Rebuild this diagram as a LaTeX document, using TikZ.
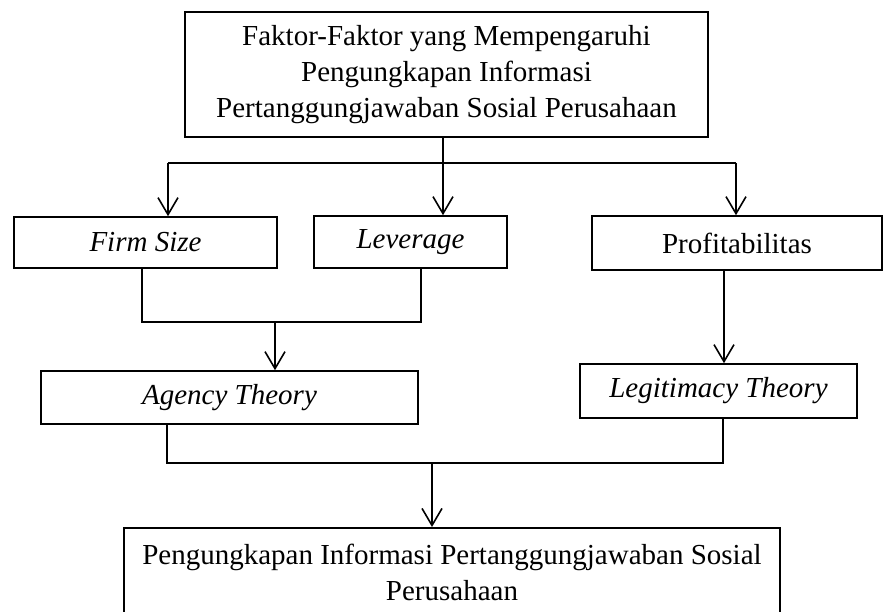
\documentclass[tikz,border=0pt]{standalone}
\usepackage{fontspec}
\setmainfont{Liberation Serif}
\usetikzlibrary{arrows.meta}

\tikzset{
  kotak/.style={draw, line width=1.6pt, inner sep=0pt, align=center,
                font=\fontsize{29}{36}\selectfont},
  panah/.style={-{Straight Barb[length=17pt,width=20pt]}, line width=1.6pt}
}

\begin{document}
\begin{tikzpicture}[x=1pt,y=-1pt,line width=1.6pt]
        \clip (0,0) rectangle (883,612);
        % top
        \node[kotak, minimum width=523, minimum height=125] (faktor) at (446.5,74.5)
              {Faktor-Faktor yang Mempengaruhi\\Pengungkapan Informasi\\Pertanggungjawaban Sosial Perusahaan};
        % factors
        \node[kotak, minimum width=263, minimum height=51] (firm) at (145.5,242.5) {\textit{Firm Size}};
        \node[kotak, minimum width=193, minimum height=52] (leverage) at (410.5,242) {\textit{Leverage}};
        \node[kotak, minimum width=290, minimum height=54] (profit) at (737,243) {Profitabilitas};
        % theories
        \node[kotak, minimum width=377, minimum height=53] (agency) at (229.5,397.5) {\textit{Agency Theory}};
        \node[kotak, minimum width=277, minimum height=54] (legit) at (718.5,391) {\textit{Legitimacy Theory}};
        % bottom
        \node[kotak, anchor=north, minimum width=656, minimum height=90] (hasil) at (452,527)
              {Pengungkapan Informasi Pertanggungjawaban Sosial\\Perusahaan};
        % branch under the top box
        \coordinate (cabang) at (443,163);
        \coordinate (kiri) at (168,163);
        \coordinate (kanan) at (736,163);
        \draw (faktor.south -| cabang) -- (cabang);
        \draw (kiri) -- (kanan);
        \draw[panah] (kiri) -- (kiri |- firm.north);
        \draw[panah] (cabang) -- (cabang |- leverage.north);
        \draw[panah] (kanan) -- (kanan |- profit.north);
        % firm size + leverage
        \coordinate (gabung1) at (275,322);
        \coordinate (firm-bawah) at ([xshift=-3.5pt]firm.south);
        \coordinate (lev-bawah) at ([xshift=10.5pt]leverage.south);
        \draw (firm-bawah) |- (gabung1) -| (lev-bawah);
        \draw[panah] (gabung1) -- (gabung1 |- agency.north);
        % profitabilitas
        \coordinate (prof-bawah) at ([xshift=-13pt]profit.south);
        \draw[panah] (prof-bawah) -- (prof-bawah |- legit.north);
        % both theories
        \coordinate (gabung2) at (432,463);
        \coordinate (ag-bawah) at ([xshift=-62.5pt]agency.south);
        \coordinate (leg-bawah) at ([xshift=4.5pt]legit.south);
        \draw (ag-bawah) |- (gabung2) -| (leg-bawah);
        \draw[panah] (gabung2) -- (gabung2 |- hasil.north);
\end{tikzpicture}
\end{document}
